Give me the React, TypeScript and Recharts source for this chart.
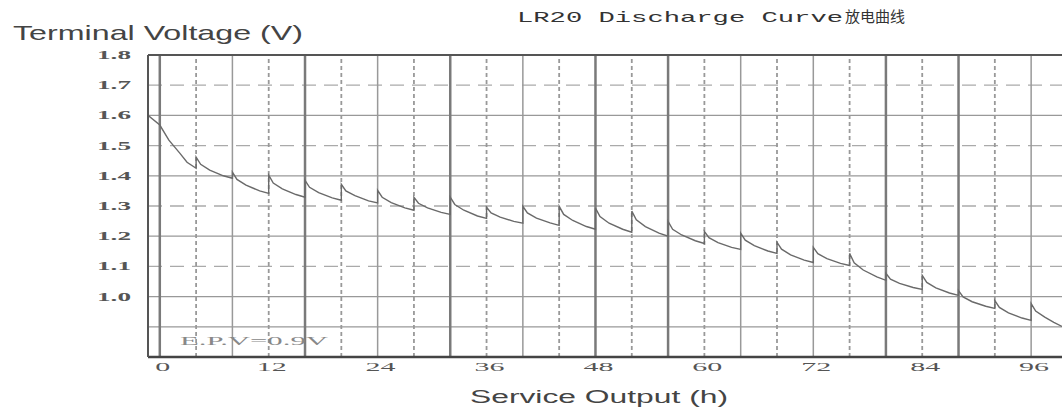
import React from "react";
import {
  LineChart,
  Line,
  XAxis,
  YAxis,
  ReferenceLine,
} from "recharts";

// LR20 intermittent discharge, 4h per cycle
const firstHours = [-1.3, 0, 1, 2.2, 3, 4];
const firstVolts = [1.6, 1.568, 1.518, 1.475, 1.445, 1.425];

const cycleStart = [4, 8, 12, 16, 20, 24, 28, 32, 36, 40, 44, 48, 52, 56, 60, 64, 68, 72, 76, 80, 84, 88, 92];
const cycleOffset = [0, 0.5, 1.5, 3, 4];
const cycleVolts = [
  [1.462, 1.438, 1.419, 1.4, 1.392],
  [1.412, 1.388, 1.369, 1.35, 1.342],
  [1.402, 1.376, 1.357, 1.338, 1.329],
  [1.385, 1.362, 1.344, 1.327, 1.319],
  [1.372, 1.35, 1.334, 1.317, 1.31],
  [1.352, 1.329, 1.311, 1.294, 1.286],
  [1.329, 1.309, 1.294, 1.279, 1.272],
  [1.329, 1.305, 1.286, 1.267, 1.259],
  [1.296, 1.277, 1.263, 1.249, 1.243],
  [1.299, 1.277, 1.26, 1.244, 1.236],
  [1.299, 1.272, 1.252, 1.232, 1.223],
  [1.293, 1.265, 1.243, 1.223, 1.213],
  [1.283, 1.254, 1.232, 1.21, 1.2],
  [1.249, 1.223, 1.204, 1.185, 1.176],
  [1.216, 1.195, 1.179, 1.163, 1.156],
  [1.21, 1.187, 1.169, 1.151, 1.143],
  [1.18, 1.157, 1.138, 1.121, 1.113],
  [1.163, 1.142, 1.126, 1.11, 1.103],
  [1.143, 1.112, 1.088, 1.065, 1.054],
  [1.077, 1.058, 1.044, 1.03, 1.024],
  [1.07, 1.047, 1.029, 1.012, 1.004],
  [1.02, 0.999, 0.983, 0.968, 0.961],
  [0.987, 0.964, 0.946, 0.929, 0.921],
];

const lastHours = [96, 96.5, 97.5, 98.5, 99.4];
const lastVolts = [0.977, 0.952, 0.932, 0.915, 0.901];

const xTicks = [0, 12, 24, 36, 48, 60, 72, 84, 96];
const yTicks = [1.0, 1.1, 1.2, 1.3, 1.4, 1.5, 1.6, 1.7, 1.8];

const vGridThick = [0, 16, 32, 48, 56, 80, 88];
const vGridSolid = [8, 24, 40, 64, 72, 96];
const vGridDashed = [4, 12, 20, 28, 36, 44, 52, 60, 68, 76, 84, 92];
const hGridSolid = [1.6, 1.4, 1.2, 1.0, 0.9];
const hGridDashed = [1.7, 1.5, 1.3, 1.1];

const data: { h: number; v: number }[] = [];
firstHours.forEach((h, i) => data.push({ h, v: firstVolts[i] }));
cycleStart.forEach((s, i) =>
  cycleOffset.forEach((o, j) => data.push({ h: s + o, v: cycleVolts[i][j] }))
);
lastHours.forEach((h, i) => data.push({ h, v: lastVolts[i] }));

const YTick = (props: any) => {
  const { x, y, payload } = props;
  return (
    <text
      x={x - 9}
      y={y}
      dy={4}
      textAnchor="end"
      fontFamily="Liberation Serif"
      fontWeight="bold"
      fontSize={13}
      fill="#555"
      textLength={34}
      lengthAdjust="spacingAndGlyphs"
    >
      {Number(payload.value).toFixed(1)}
    </text>
  );
};

const XTick = (props: any) => {
  const { x, y, payload } = props;
  const s = String(payload.value);
  return (
    <text
      x={x + 3}
      y={y}
      dy={6}
      textAnchor="middle"
      fontFamily="Liberation Serif"
      fontSize={13}
      fill="#555"
      textLength={s.length * 15}
      lengthAdjust="spacingAndGlyphs"
    >
      {s}
    </text>
  );
};

export default function App() {
  return (
    <div style={{ position: "absolute", left: 0, top: 0, width: 1062, height: 409, background: "#fff" }}>
      <LineChart
        width={1062}
        height={409}
        data={data}
        margin={{ top: 55, right: 0, bottom: 0, left: 88 }}
      >
        <XAxis
          dataKey="h"
          type="number"
          domain={[-1.3, 99.4]}
          ticks={xTicks}
          allowDataOverflow
          tickLine={false}
          axisLine={{ stroke: "#444", strokeWidth: 2.5 }}
          tick={<XTick />}
          height={52}
        />
        <YAxis
          type="number"
          domain={[0.8, 1.8]}
          ticks={yTicks}
          allowDataOverflow
          tickLine={false}
          axisLine={{ stroke: "#555", strokeWidth: 2 }}
          tick={<YTick />}
          width={60}
        />
        {hGridSolid.map((v) => (
          <ReferenceLine key={"hs" + v} y={v} stroke="#999" strokeWidth={1.3} />
        ))}
        {hGridDashed.map((v) => (
          <ReferenceLine key={"hd" + v} y={v} stroke="#aaa" strokeWidth={1.3} strokeDasharray="14 8" />
        ))}
        {vGridThick.map((v) => (
          <ReferenceLine key={"vt" + v} x={v} stroke="#7a7a7a" strokeWidth={2.5} />
        ))}
        {vGridSolid.map((v) => (
          <ReferenceLine key={"vs" + v} x={v} stroke="#999" strokeWidth={1.5} />
        ))}
        {vGridDashed.map((v) => (
          <ReferenceLine key={"vd" + v} x={v} stroke="#999" strokeWidth={1.8} strokeDasharray="4 3" />
        ))}
        <ReferenceLine y={1.8} stroke="#555" strokeWidth={2} />
        <Line
          type="linear"
          dataKey="v"
          stroke="#6a6a6a"
          strokeWidth={1.4}
          dot={false}
          isAnimationActive={false}
        />
      </LineChart>
      <svg
        width={1062}
        height={409}
        style={{ position: "absolute", left: 0, top: 0, pointerEvents: "none" }}
      >
        <text x={517} y={22} fontFamily="Liberation Mono" fontSize={15} fill="#333" textLength={326} lengthAdjust="spacingAndGlyphs">
          LR20 Discharge Curve
        </text>
        <text x={845} y={22} fontFamily="Noto Sans CJK SC" fontSize={15} fill="#333" textLength={60} lengthAdjust="spacingAndGlyphs">
          放电曲线
        </text>
        <text x={13} y={40} fontFamily="Liberation Sans" fontSize={21} fill="#444" textLength={290} lengthAdjust="spacingAndGlyphs">
          Terminal Voltage (V)
        </text>
        <text x={470} y={403} fontFamily="Liberation Sans" fontSize={18} fill="#444" textLength={258} lengthAdjust="spacingAndGlyphs">
          Service Output (h)
        </text>
        <text x={180} y={345} fontFamily="Liberation Serif" fontSize={13} fill="#888" textLength={148} lengthAdjust="spacingAndGlyphs">
          E.P.V=0.9V
        </text>
      </svg>
    </div>
  );
}
